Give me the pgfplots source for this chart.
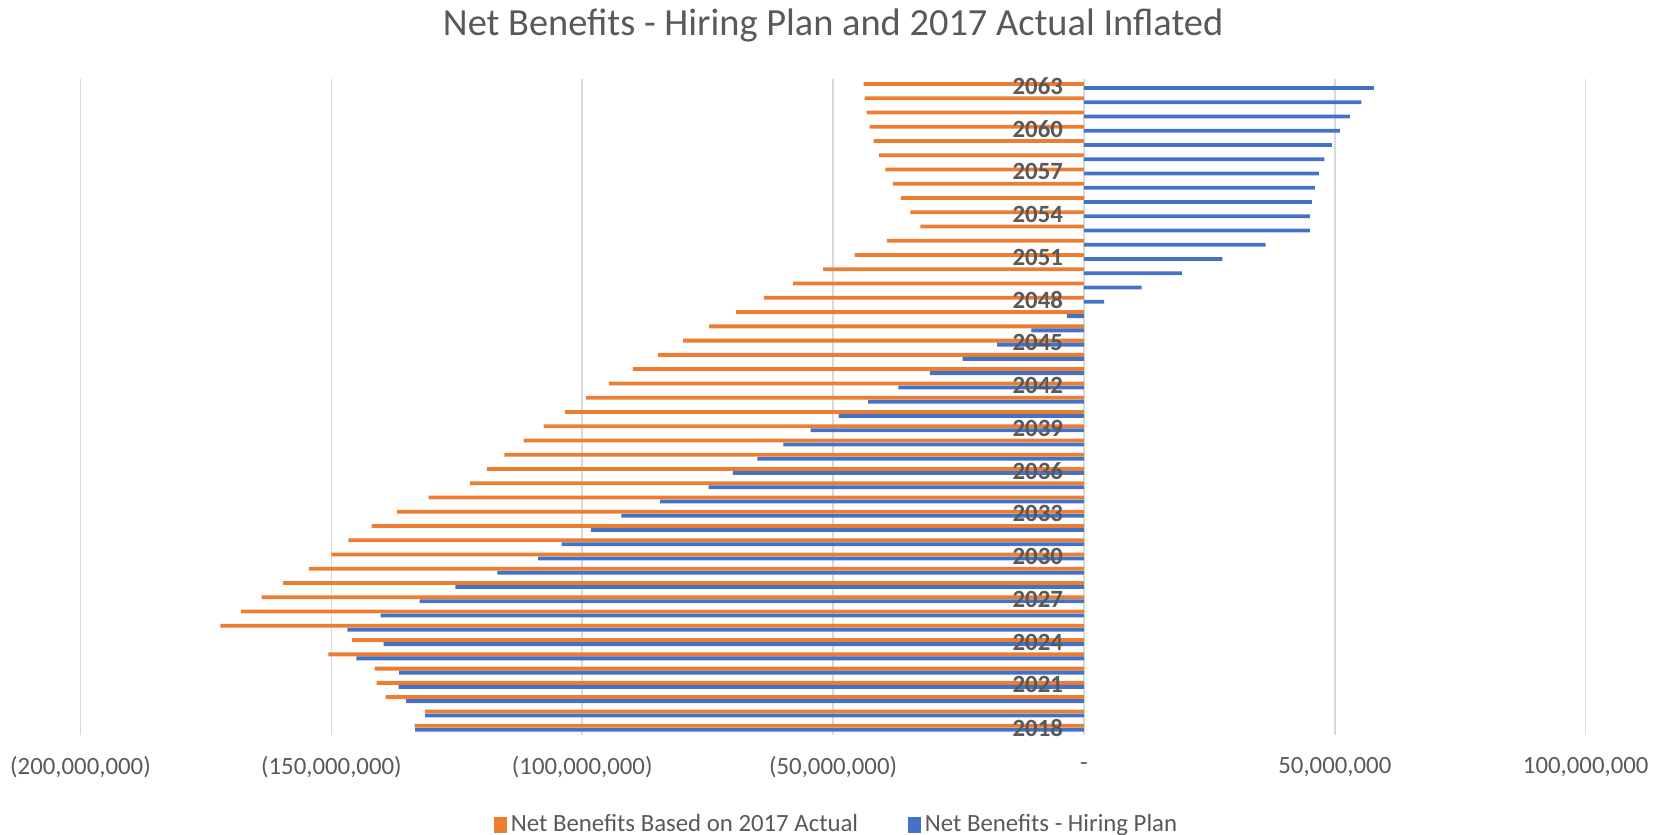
\documentclass[border=0pt]{standalone}
\usepackage{pgfplots}
\pgfplotsset{compat=1.18}
\usepackage{pgfplotstable}
\usepackage{fontspec}
\setmainfont{Carlito}
\definecolor{barorange}{HTML}{ED7D31}
\definecolor{barblue}{HTML}{4472C4}
\definecolor{txtgray}{HTML}{595959}
\definecolor{gridgray}{HTML}{D9D9D9}
% year labels sit over the bars, grid stays behind them
\pgfplotsset{layers/labelsontop/.define layer set={axis background,axis grid,axis ticks,axis lines,pre main,main,axis tick labels,axis descriptions,axis foreground}{/pgfplots/layers/standard}}

\pgfplotstableread{
year actual hiring
2018 -133400000 -133300000
2019 -131300000 -131300000
2020 -139200000 -135100000
2021 -141000000 -136600000
2022 -141400000 -136500000
2023 -150600000 -145000000
2024 -145900000 -139600000
2025 -172100000 -146800000
2026 -168000000 -140200000
2027 -163900000 -132400000
2028 -159600000 -125300000
2029 -154500000 -116900000
2030 -150000000 -108800000
2031 -146600000 -104100000
2032 -142000000 -98300000
2033 -136900000 -92200000
2034 -130600000 -84500000
2035 -122400000 -74800000
2036 -119000000 -70000000
2037 -115500000 -65100000
2038 -111700000 -59900000
2039 -107700000 -54500000
2040 -103400000 -48900000
2041 -99300000 -43000000
2042 -94700000 -37000000
2043 -89900000 -30700000
2044 -84900000 -24200000
2045 -79900000 -17300000
2046 -74700000 -10500000
2047 -69400000 -3400000
2048 -63800000 4000000
2049 -58000000 11500000
2050 -52000000 19500000
2051 -45700000 27600000
2052 -39300000 36200000
2053 -32600000 45000000
2054 -34600000 45000000
2055 -36500000 45400000
2056 -38100000 46000000
2057 -39600000 46800000
2058 -40900000 47900000
2059 -41900000 49400000
2060 -42700000 51000000
2061 -43300000 53000000
2062 -43700000 55300000
2063 -43900000 57800000
}\netdata

\begin{document}
\begin{tikzpicture}
\begin{axis}[
  set layers=labelsontop,
  at={(40.25bp,50.1bp)}, anchor=south west,
  scale only axis, width=752.6bp, height=328bp,
  xbar, bar width=1.9bp,
  xmin=-200000000, xmax=100000000,
  ymin=2017.5, ymax=2063.5,
  scaled x ticks=false,
  axis x line=bottom, axis y line=middle,
  hide obscured x ticks=false, hide obscured y ticks=false,
  x axis line style={draw=none},
  y axis line style={-, draw=gridgray, line width=0.75bp},
  major tick length=0pt,
  tick style={draw=none},
  xmajorgrids, grid style={gridgray, line width=0.75bp},
  xtick={-200000000,-150000000,-100000000,-50000000,0,50000000,100000000},
  xticklabels={{(200,000,000)},{(150,000,000)},{(100,000,000)},{(50,000,000)},-,{50,000,000},{100,000,000}},
  xticklabel style={anchor=center, yshift=-16bp, text=txtgray, font=\fontsize{12.4bp}{14bp}\selectfont},
  ytick={2018,2021,2024,2027,2030,2033,2036,2039,2042,2045,2048,2051,2054,2057,2060,2063},
  yticklabels={2018,2021,2024,2027,2030,2033,2036,2039,2042,2045,2048,2051,2054,2057,2060,2063},
  yticklabel style={anchor=east, xshift=-7bp, text=txtgray, font=\fontsize{12.4bp}{14bp}\selectfont\bfseries},
  title={Net Benefits - Hiring Plan and 2017 Actual Inflated},
  title style={at={(0.5,1)}, anchor=center, yshift=20.5bp, text=txtgray, font=\fontsize{19.2bp}{22bp}\selectfont},
  legend style={at={(0.503,-0.137)}, anchor=center, draw=none, fill=none,
    font=\fontsize{12.4bp}{14bp}\selectfont, text=txtgray,
    /tikz/every even column/.append style={column sep=23bp}},
  legend columns=2,
  legend image code/.code={\fill[#1] (0bp,-4bp) rectangle (6.4bp,4bp);},
]
\addplot[fill=barorange, draw=none, bar shift=1bp] table[x=actual, y=year] {\netdata};
\addlegendentry{Net Benefits Based on 2017 Actual}
\addplot[fill=barblue, draw=none, bar shift=-1bp] table[x=hiring, y=year] {\netdata};
\addlegendentry{Net Benefits - Hiring Plan}
\end{axis}
\pgfresetboundingbox
\path[use as bounding box] (0,0) rectangle (830.5bp,417.5bp);
\end{tikzpicture}
\end{document}
